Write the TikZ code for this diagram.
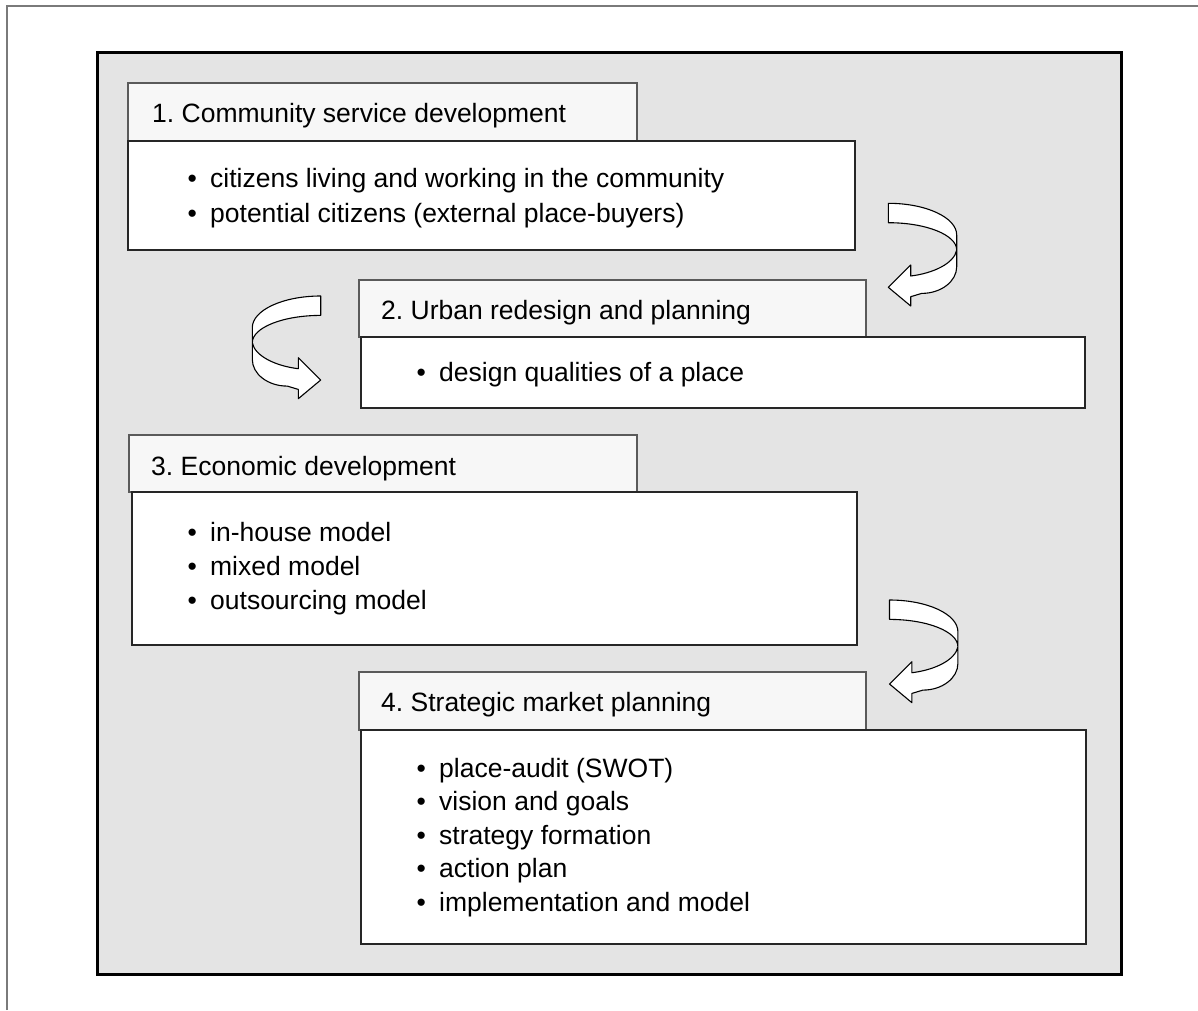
\documentclass[tikz,border=0pt]{standalone}
\usepackage{fontspec}
\setmainfont{Liberation Sans}
\usepackage{tikz}
\definecolor{panel}{HTML}{E4E4E4}
\definecolor{tabfill}{HTML}{F7F7F7}
\definecolor{tabline}{HTML}{5A5A5A}
\definecolor{frameline}{HTML}{7A7A7A}
\frenchspacing

\begin{document}
\begin{tikzpicture}[x=1pt,y=-1pt,
	tab/.style={draw=tabline, fill=tabfill, line width=1.3pt},
	body/.style={draw=black!85, fill=white, line width=1.8pt},
	head/.style={anchor=base west, inner sep=0pt, font=\fontsize{26.5}{32}\selectfont},
	item/.style={anchor=base west, inner sep=0pt, font=\fontsize{26.5}{32}\selectfont},
	turn/.style={draw=black, fill=white, line width=1.1pt, line join=round},
	uturn/.pic={
		\draw[turn] (0,0) .. controls (37.8,0) and (68.4,14.2) .. (68.4,31.7)
			-- (68.4,63.4) .. controls (68.4,78.1) and (52.7,90.1) .. (33.4,90.1)
			-- (22.4,93.4) -- (22.4,102.7) -- (0,84) -- (22.4,61.7) -- (22.4,72.7)
			.. controls (45,70) and (66,60) .. (68.4,46.7)
			.. controls (68.4,31.6) and (37.8,19.4) .. (0,19.4) -- cycle;}]
	\useasboundingbox (0,0) rectangle (1198,1010);
	%Cornice
	\draw [frameline, line width=1.4pt] (7,1010) -- (7,6) -- (1198,6);
	\draw [fill=panel, line width=3pt] (97,52) rectangle (1121,974);
	%Riquadri
	\draw [tab] (128,83) rectangle (637,141);
	\draw [body] (128,141) rectangle (855,250);
	\draw [tab] (359,280) rectangle (866,337);
	\draw [body] (361,337) rectangle (1085,408);
	\draw [tab] (129,435) rectangle (637,492);
	\draw [body] (132,492) rectangle (857,645);
	\draw [tab] (359,672) rectangle (866,730);
	\draw [body] (361,730) rectangle (1086,944);
	%Titoli
	\node [head] (t1) at (152,122) {1. Community service development};
	\node [head] (t2) at (381,319.5) {2. Urban redesign and planning};
	\node [head] (t3) at (151,475) {3. Economic development};
	\node [head] (t4) at (381,711.5) {4. Strategic market planning};
	%Voci
	\foreach \txt [count=\i] in {citizens living and working in the community,
		potential citizens (external place-buyers)}
	{\node [item] (a\i) at (187.5,{187+35*(\i-1)}) {\makebox[22.5pt][l]{•}\txt};}
	\node [item] (b1) at (416.5,381) {\makebox[22.5pt][l]{•}design qualities of a place};
	\foreach \txt [count=\i] in {in-house model, mixed model, outsourcing model}
	{\node [item] (c\i) at (187.5,{541+34*(\i-1)}) {\makebox[22.5pt][l]{•}\txt};}
	\foreach \txt [count=\i] in {place-audit (SWOT), vision and goals,
		strategy formation, action plan, implementation and model}
	{\node [item] (d\i) at (416.5,{777+33.5*(\i-1)}) {\makebox[22.5pt][l]{•}\txt};}
	%Frecce
	\pic at (888.3,203.3) {uturn};
	\pic [xscale=-1] at (320.7,296) {uturn};
	\pic at (889.5,600) {uturn};
\end{tikzpicture}
\end{document}
